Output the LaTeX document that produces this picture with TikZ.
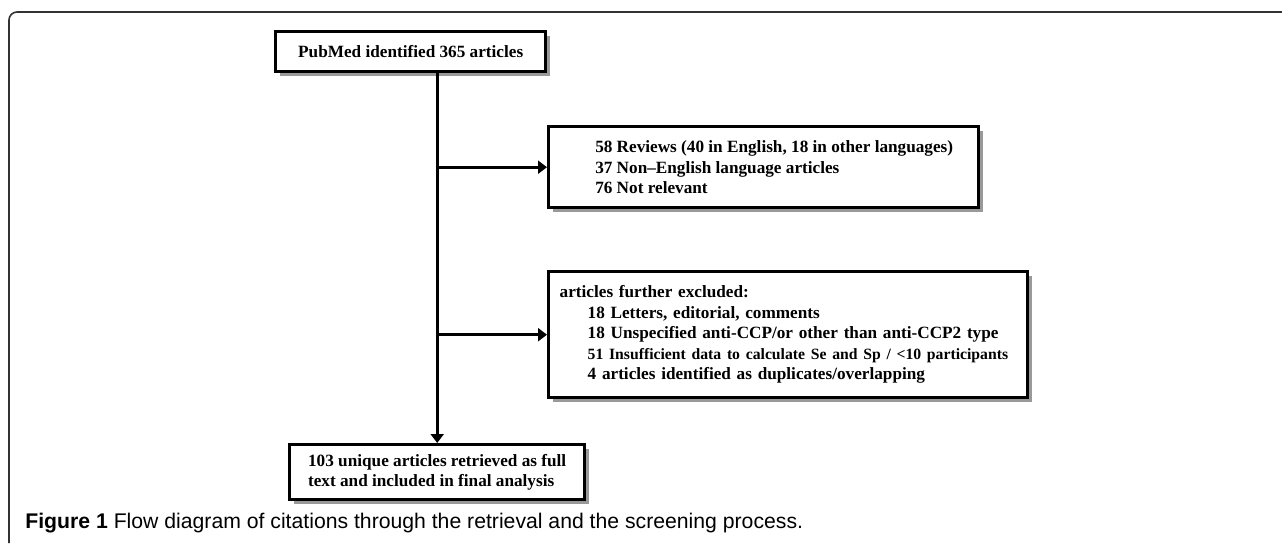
\documentclass[tikz,border=0pt]{standalone}
\usepackage{fontspec}
\setmainfont{Liberation Serif}
\newfontfamily\capfont{Liberation Sans}
\usetikzlibrary{arrows.meta,shadows}

\tikzset{
	flowbox/.style={draw=black, line width=1.7pt, fill=white, anchor=north west, inner sep=0pt, align=left,
		font=\bfseries\fontsize{8.6}{10.25}\selectfont,
		drop shadow={shadow xshift=2.3pt, shadow yshift=-2.3pt, fill=black!40, opacity=1}},
	flowline/.style={line width=1.5pt, -{Triangle[length=4.5pt,width=6.5pt]}}
}

\begin{document}
\begin{tikzpicture}[x=0.5pt, y=-0.5pt]
	\useasboundingbox (0,0) rectangle (1282,543);
	\draw[black!80, line width=0.8pt, rounded corners=4pt] (9,543) -- (9,12) -- (1282,12);

	\node[flowbox, minimum width=135pt, minimum height=20pt] (pubmed) at (274,30) {PubMed identified 365 articles};

	\node[flowbox, minimum width=215pt, minimum height=40.5pt] (reviews) at (547,125)
		{\hspace*{10.5pt}58 Reviews (40 in English, 18 in other languages)\\
		\hspace*{10.5pt}37 Non--English language articles\\
		\hspace*{10.5pt}76 Not relevant};

	\node[flowbox, minimum height=63pt, inner xsep=5.5pt, text width=228.5pt] (excluded) at (547,270)
		{articles further excluded:\\
		\hspace*{14pt}18 Letters, editorial, comments\\
		\hspace*{14pt}18 Unspecified anti-CCP/or other than anti-CCP2 type\\
		\hspace*{14pt}{\fontsize{7.85}{10.25}\selectfont 51 Insufficient data to calculate Se and Sp / <10 participants}\\
		\hspace*{14pt}4 articles identified as duplicates/overlapping};

	\node[flowbox, minimum width=147.5pt, minimum height=27.5pt] (final) at (288,443)
		{103 unique articles retrieved as full\\text and included in final analysis};

	\draw[flowline] (pubmed.south -| final.north) -- (final.north);
	\draw[flowline] (reviews.west -| final.north) -- (reviews.west);
	\draw[flowline] (excluded.west -| final.north) -- (excluded.west);

	\node[anchor=base west, inner sep=0pt, font=\capfont\fontsize{10.6}{12}\selectfont] (caption) at (25,528)
		{\textbf{Figure 1} Flow diagram of citations through the retrieval and the screening process.};
\end{tikzpicture}
\end{document}
